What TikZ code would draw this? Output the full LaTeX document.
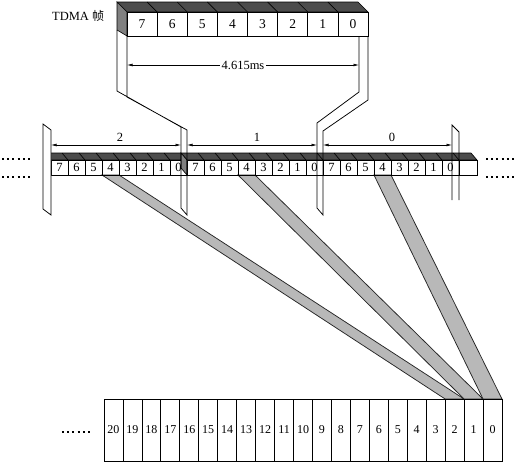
\documentclass[tikz,border=0pt]{standalone}
\usepackage{fontspec}
\setmainfont{Liberation Serif}
\newfontfamily\cjk{Noto Sans CJK SC}
\usetikzlibrary{arrows.meta}
\pgfdeclarelayer{bg}
\pgfsetlayers{bg,main}
\tikzset{
 topcell/.style={draw, line width=0.75pt, minimum width=30.125pt, minimum height=24pt, inner sep=0pt, outer sep=0pt, font=\fontsize{13.5}{13.5}\selectfont},
 midcell/.style={draw, line width=0.75pt, minimum width=17pt, minimum height=15pt, inner sep=0pt, outer sep=0pt, font=\fontsize{12.5}{12.5}\selectfont},
 botcell/.style={draw, line width=0.75pt, minimum width=18.952pt, minimum height=62pt, inner sep=0pt, outer sep=0pt, font=\fontsize{12}{12}\selectfont},
 darkface/.style={fill=black!70, draw=black, line width=0.6pt},
 sideface/.style={fill=black!50, draw=black, line width=0.6pt},
 beam/.style={fill=black!28, draw=black!85, line width=0.75pt},
 dimarrow/.style={{Latex[length=5.5pt,width=2.8pt]}-{Latex[length=5.5pt,width=2.8pt]}, line width=0.6pt},
 plateline/.style={draw=black, line width=0.75pt},
 dotrow/.style={line width=2pt, dash pattern=on 2pt off 3.2pt},
 lab/.style={inner sep=0pt, font=\fontsize{12.5}{12.5}\selectfont},
}
\begin{document}
\begin{tikzpicture}[x=1pt,y=-1pt]
\useasboundingbox (0,0) rectangle (515,463);

% ---------- title ----------
\node[lab, anchor=west] (title) at (52,16) {TDMA {\cjk\fontsize{12}{12}\selectfont 帧}};

% ---------- top TDMA frame ----------
\fill[darkface] (117,2) -- (358,2) -- (368,12) -- (127,12) -- cycle;
\foreach \k in {1,...,7} \draw[line width=0.6pt] ({127+30.125*\k},12) -- ({117+30.125*\k},2);
\filldraw[sideface] (117,2) -- (127,12) -- (127,36) -- (117,30) -- cycle;
\foreach \i [count=\k from 0] in {7,6,5,4,3,2,1,0}
  \node[topcell] (t\i) at ({127+30.125*(\k+0.5)},24) {\i};

% 4.615 ms dimension
\coordinate (tl) at (127,65);
\coordinate (tr) at (359,65);
\draw[dimarrow] (tl) -- node[fill=white, inner sep=1.5pt, font=\fontsize{12.5}{12.5}\selectfont] (dur) {4.615ms} (tr);

% ---------- middle row of frames ----------
\fill[darkface] (45,153) -- (471,153) -- (477,160) -- (51,160) -- cycle;
\foreach \k in {1,...,24} \draw[line width=0.6pt] ({51+17*\k},160) -- ({45+17*\k},153);
\foreach \f/\x in {a/51,b/187,c/323}{
  \foreach \i [count=\k from 0] in {7,6,5,4,3,2,1,0}
    \node[midcell] (\f\i) at ({\x+17*(\k+0.5)},167.5) {\i};
}
\node[midcell, minimum width=18pt] (ex) at (468,167.5) {};
% left face of frame 1
\filldraw[sideface] (181,153) -- (187,160) -- (187,175) -- (181,168) -- cycle;

% left end plate
\filldraw[plateline, fill=white] (43,124) -- (51,130) -- (51,215) -- (43,209) -- cycle;
% right end plate
\draw[plateline] (452,200) -- (452,125) -- (459,132) -- (459,200);

% brackets from the TDMA frame to the middle row
\draw[plateline] (117,30) -- (117,91) -- (181,127) -- (181,208) -- (187,215) -- (187,130) -- (127,97) -- (127,36);
\draw[plateline] (359,36) -- (359,92) -- (317,123) -- (317,208) -- (323,215) -- (323,131) -- (368,100) -- (368,36);

% dimensions of the middle frames
\coordinate (d2a) at (51,145);  \coordinate (d2b) at (181,145);
\coordinate (d1a) at (187,145); \coordinate (d1b) at (317,145);
\coordinate (d0a) at (323,145); \coordinate (d0b) at (452,145);
\draw[dimarrow] (d2a) -- (d2b);
\draw[dimarrow] (d1a) -- (d1b);
\draw[dimarrow] (d0a) -- (d0b);
\node[lab] (n2) at (120,137.5) {2};
\node[lab] (n1) at (257,137.5) {1};
\node[lab] (n0) at (392,137.5) {0};

% dots
\draw[dotrow] (2,159) -- (32,159);
\draw[dotrow] (2,177) -- (32,177);
\draw[dotrow] (486,159) -- (515,159);
\draw[dotrow] (486,177) -- (515,177);
\draw[dotrow] (62,432) -- (93,432);

% ---------- bottom multiframe ----------
\foreach \i in {0,...,20}
  \node[botcell] (z\i) at ({502-18.952*(\i+0.5)},430) {\i};

% ---------- beams ----------
\begin{pgfonlayer}{bg}
\filldraw[beam] (a4.south west) -- (a4.south east) -- (z2.north east) -- (z2.north west) -- cycle;
\filldraw[beam] (b4.south west) -- (b4.south east) -- (z1.north east) -- (z1.north west) -- cycle;
\filldraw[beam] (c4.south west) -- (c4.south east) -- (z0.north east) -- (z0.north west) -- cycle;
\end{pgfonlayer}
\end{tikzpicture}
\end{document}
